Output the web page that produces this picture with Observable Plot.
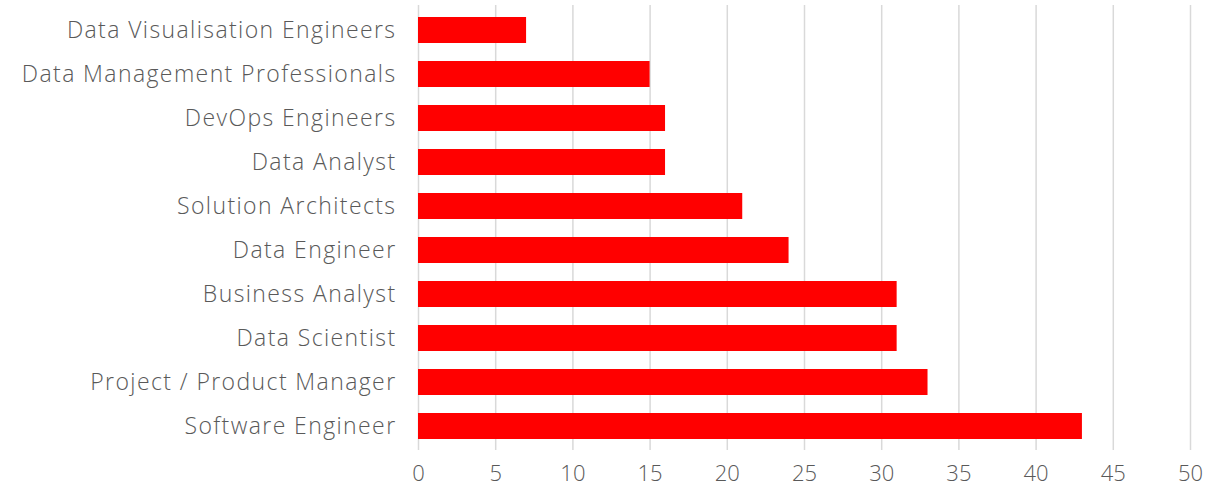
<!DOCTYPE html>
<html>
<head>
<meta charset="utf-8">
<script src="https://cdn.jsdelivr.net/npm/d3@7"></script>
<script src="https://cdn.jsdelivr.net/npm/@observablehq/plot@0.6"></script>
<style>
  html, body { margin: 0; padding: 0; background: #fff; }
  #chart { width: 1205px; height: 489px; }
  #chart text { font-weight: 300; }
  #chart g[aria-label="y-axis tick label"] text { letter-spacing: 1.4px; }
</style>
</head>
<body>
<div id="chart"></div>
<script>
const roles = [
  "Data Visualisation Engineers",
  "Data Management Professionals",
  "DevOps Engineers",
  "Data Analyst",
  "Solution Architects",
  "Data Engineer",
  "Business Analyst",
  "Data Scientist",
  "Project / Product Manager",
  "Software Engineer"
];
const counts = [7, 15, 16, 16, 21, 24, 31, 31, 33, 43];
const xTicks = [0, 5, 10, 15, 20, 25, 30, 35, 40, 45, 50];

const data = roles.map((r, i) => ({role: r, count: counts[i]}));

const chart = Plot.plot({
  width: 1205,
  height: 489,
  marginLeft: 418,
  marginRight: 15,
  marginTop: 5,
  marginBottom: 39,
  style: {fontFamily: "'Open Sans', sans-serif", fontSize: "23px", color: "#595959", background: "#fff"},
  x: {domain: [0, 50], ticks: xTicks, label: null},
  y: {domain: roles, label: null, paddingInner: 0.416, paddingOuter: 0.208},
  marks: [
    Plot.gridX(xTicks, {stroke: "#d9d9d9", strokeOpacity: 1, strokeWidth: 1.5}),
    Plot.barX(data, {x: "count", y: "role", fill: "#ff0000"}),
    Plot.axisX(xTicks, {tickSize: 0, tickPadding: 15, fontSize: 22, fill: "#595959", label: null}),
    Plot.axisY({tickSize: 0, tickPadding: 22, fontSize: 23, fill: "#595959", label: null})
  ]
});
document.getElementById("chart").appendChild(chart);
</script>
</body>
</html>
